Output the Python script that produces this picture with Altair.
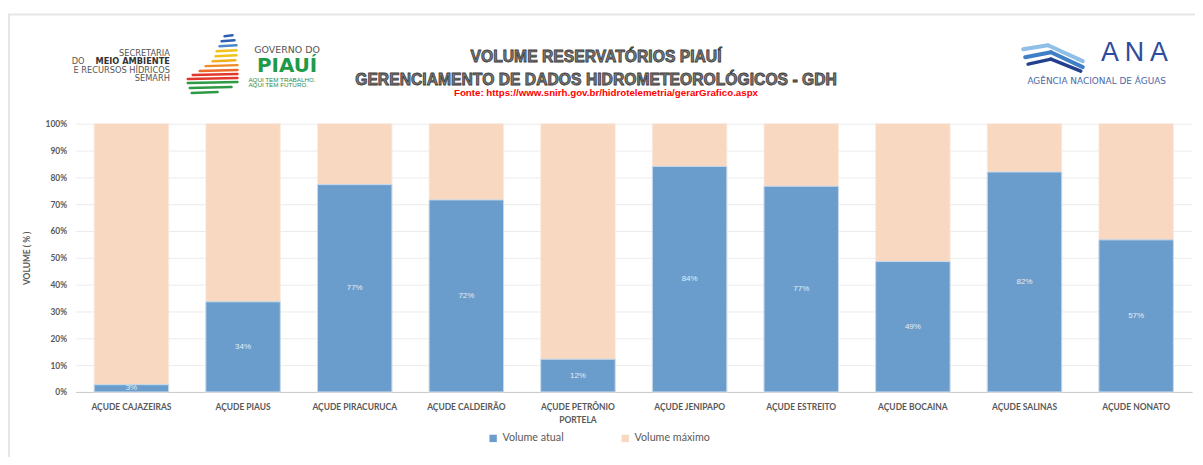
import altair as alt
import pandas as pd

# ---- data ----
categories = ["AÇUDE CAJAZEIRAS", "AÇUDE PIAUS", "AÇUDE PIRACURUCA", "AÇUDE CALDEIRÃO",
              "AÇUDE PETRÔNIO PORTELA", "AÇUDE JENIPAPO", "AÇUDE ESTREITO", "AÇUDE BOCAINA",
              "AÇUDE SALINAS", "AÇUDE NONATO"]
volume_atual = [0.027, 0.336, 0.773, 0.716, 0.122, 0.841, 0.767, 0.486, 0.820, 0.567]
volume_maximo = [1.0] * 10
series_names = ["Volume atual", "Volume máximo"]
series_colors = ["#6a9dcb", "#f8d8c1"]
y_ticks = [0, 0.1, 0.2, 0.3, 0.4, 0.5, 0.6, 0.7, 0.8, 0.9, 1.0]

rows = []
for c, a, m in zip(categories, volume_atual, volume_maximo):
    rows.append({"cat": c, "serie": "Volume máximo", "v": m, "mid": m / 2})
    rows.append({"cat": c, "serie": "Volume atual", "v": a, "mid": a / 2})
df = pd.DataFrame(rows)

W, H = 1124, 270
AX = "Lato"
GRAY = "#595959"

xenc = alt.X("cat:N", sort=categories,
             scale=alt.Scale(paddingInner=0.333, paddingOuter=0.167),
             axis=alt.Axis(title=None, labelAngle=0, labelFont=AX, labelFontSize=8.5,
                           labelFontWeight="bold", labelColor=GRAY, ticks=False,
                           domainColor="#c9c9c9", domainWidth=1, labelPadding=11,
                           labelLineHeight=13,
                           labelExpr="datum.label == 'AÇUDE PETRÔNIO PORTELA' ? ['AÇUDE PETRÔNIO', 'PORTELA'] : datum.label"))
yscale = alt.Scale(domain=[0, 1], nice=False)
yaxis = alt.Axis(values=y_ticks, format=".0%", title="VOLUME ( % )", titleFont=AX,
                 titleFontSize=8.5, titleFontWeight="bold", titleColor=GRAY, titlePadding=14,
                 labelFont=AX, labelFontSize=8.5, labelFontWeight="bold", labelColor=GRAY,
                 labelPadding=9, ticks=False, domain=False, gridColor="#ebebeb", gridWidth=1,
                 labelOverlap=False, tickCount=11)
color = alt.Color("serie:N", scale=alt.Scale(domain=series_names, range=series_colors),
                  legend=alt.Legend(title=None, orient="none", direction="horizontal",
                                    legendX=415, legendY=311, symbolType="square",
                                    symbolSize=55, symbolStrokeWidth=0, labelFont=AX,
                                    labelFontSize=10.8, labelColor=GRAY, columnPadding=56,
                                    labelOffset=4))

base = alt.Chart(df)
bars_max = base.transform_filter(alt.datum.serie == "Volume máximo").mark_bar(
    stroke="#fbe9dd", strokeWidth=0.8).encode(
    x=xenc, y=alt.Y("v:Q", scale=yscale, axis=yaxis), color=color)
bars_cur = base.transform_filter(alt.datum.serie == "Volume atual").mark_bar(
    stroke="#c9dbee", strokeWidth=1).encode(
    x=xenc, y=alt.Y("v:Q", scale=yscale, axis=yaxis), color=color)
labels = base.transform_filter(alt.datum.serie == "Volume atual").mark_text(
    font="Liberation Sans", fontSize=8, color="#e4ecf5", baseline="middle").encode(
    x=xenc, y=alt.Y("mid:Q", scale=yscale, axis=yaxis), text=alt.Text("v:Q", format=".0%"))

# ---- header decorations ----
deco = alt.Chart(pd.DataFrame({"k": [0]}))

def txt(s, x, y, size, color, weight="normal", align="center", font="Liberation Sans",
        stroke=None, sw=0, baseline="middle"):
    kw = dict(text=s, font=font, fontSize=size, color=color, fontWeight=weight,
              align=align, baseline=baseline)
    if stroke:
        kw.update(stroke=stroke, strokeWidth=sw)
    return deco.mark_text(**kw).encode(x=alt.value(x - 76), y=alt.value(y - 123))

def rule(x1, y1, x2, y2, col, w):
    return deco.mark_rule(color=col, strokeWidth=w, strokeCap="round").encode(
        x=alt.value(x1 - 76), x2=alt.value(x2 - 76), y=alt.value(y1 - 123), y2=alt.value(y2 - 123))

DV = "DejaVu Sans"
header = [
    # frame
    rule(9, 13, 1203, 13, "#e6e6e6", 2),
    rule(9, 13, 9, 465, "#e6e6e6", 2),
    # titles
    txt("VOLUME RESERVATÓRIOS PIAUÍ", 600, 56, 15.8, "#7a7a7a", "bold", stroke="#3a3a3a", sw=0.8),
    txt("GERENCIAMENTO DE DADOS HIDROMETEOROLÓGICOS - GDH", 600, 79, 15.8, "#7a7a7a", "bold",
        stroke="#3a3a3a", sw=0.8),
    txt("Fonte: https://www.snirh.gov.br/hidrotelemetria/gerarGrafico.aspx", 610, 92, 9.8,
        "#ff0000", "bold"),
    # SEMARH
    txt("SECRETARIA", 171, 52.5, 8.3, "#555555", align="right", font=DV),
    txt("MEIO AMBIENTE", 171, 61, 8.3, "#333333", "bold", align="right", font=DV),
    txt("DO", 85, 61, 8.3, "#555555", align="right", font=DV),
    txt("E RECURSOS HÍDRICOS", 171, 69.5, 8.3, "#555555", align="right", font=DV),
    txt("SEMARH", 171, 78, 8.3, "#555555", align="right", font=DV),
    # Piauí logo stripes
    rule(226, 35, 234, 34, "#2d5fb3", 2.5),
    rule(223, 40, 236, 39, "#2d5fb3", 2.5),
    rule(221, 45, 238, 44, "#4a86c8", 2.5),
    rule(218, 50, 238, 49, "#f2c21b", 2.5),
    rule(217, 55, 238, 54, "#f2c21b", 2.5),
    rule(214, 60, 237, 59, "#f2b01b", 2.5),
    rule(207, 65, 239, 64, "#f08a22", 2.5),
    rule(201, 70, 239, 69, "#ee6a2a", 2.5),
    rule(194, 74, 239, 73, "#e2372c", 2.5),
    rule(189, 78, 239, 77, "#e2372c", 2.5),
    rule(189, 82, 239, 81, "#2e9a44", 2.5),
    rule(191, 87, 233, 86, "#2e9a44", 2.5),
    rule(193, 92, 219, 91, "#2e9a44", 2.5),
    txt("GOVERNO DO", 289, 49, 9.5, "#555555", font=DV),
    txt("PIAUÍ", 289, 71, 20, "#1f9a4a", "bold", font=DV, baseline="alphabetic"),
    txt("AQUI TEM TRABALHO.", 250, 78.5, 6.3, "#2a8a48", align="left"),
    txt("AQUI TEM FUTURO.", 250, 84, 6.3, "#2a8a48", align="left"),
    # ANA logo
    rule(1030, 48, 1055, 44, "#8fbfe6", 4),
    rule(1055, 44, 1090, 60, "#8fbfe6", 4),
    rule(1032, 56, 1058, 51, "#3f7fc6", 4),
    rule(1058, 51, 1090, 66, "#3f7fc6", 4),
    rule(1035, 63, 1058, 58, "#23408e", 3.5),
    rule(1058, 58, 1088, 70, "#23408e", 3.5),
    txt("A N A", 1142, 52, 27, "#2d4c9c"),
    txt("AGÊNCIA NACIONAL DE ÁGUAS", 1104, 80.5, 9, "#4b67a8", font=DV),
]

chart = alt.layer(bars_max, bars_cur, labels, *header).properties(
    width=W, height=H,
    padding={"left": 68, "top": 115, "right": 3, "bottom": 64},
    autosize=alt.AutoSizeParams(type="none"),
).configure_view(stroke=None)

chart.save("out.html", embed_options={"renderer": "svg", "actions": False})
